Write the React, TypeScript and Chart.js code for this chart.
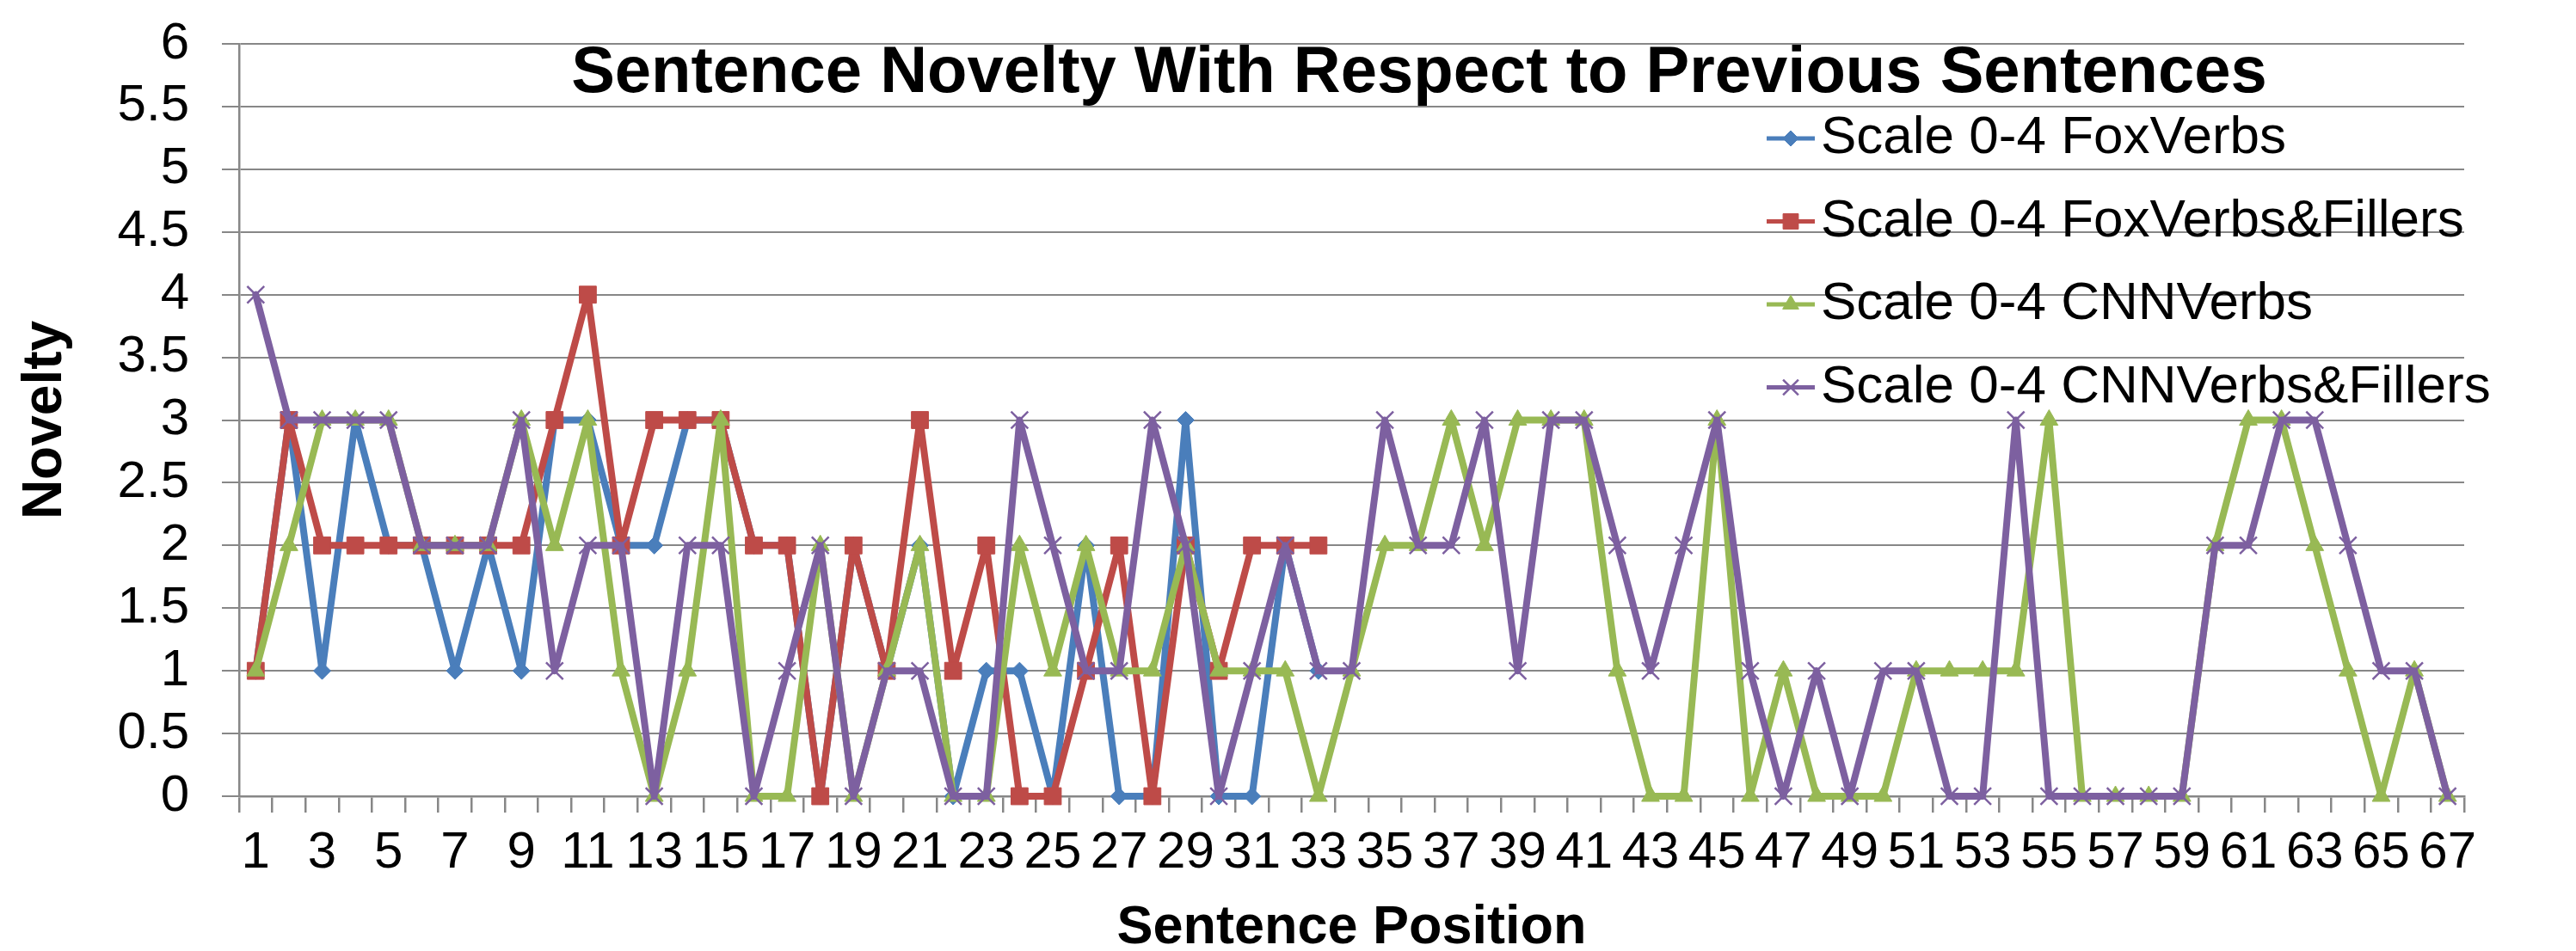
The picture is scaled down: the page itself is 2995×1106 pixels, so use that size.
import React, { useEffect, useRef } from 'react';
import { Chart, registerables } from 'chart.js';

Chart.register(...registerables);

const TITLE = 'Sentence Novelty With Respect to Previous Sentences';
const X_TITLE = 'Sentence Position';
const Y_TITLE = 'Novelty';

const categories = [
  '1', '2', '3', '4', '5', '6', '7', '8', '9', '10',
  '11', '12', '13', '14', '15', '16', '17', '18', '19', '20',
  '21', '22', '23', '24', '25', '26', '27', '28', '29', '30',
  '31', '32', '33', '34', '35', '36', '37', '38', '39', '40',
  '41', '42', '43', '44', '45', '46', '47', '48', '49', '50',
  '51', '52', '53', '54', '55', '56', '57', '58', '59', '60',
  '61', '62', '63', '64', '65', '66', '67',
];

const foxVerbs = [
  1, 3, 1, 3, 2, 2, 1, 2, 1, 3,
  3, 2, 2, 3, 3, 2, 2, 0, 2, 1,
  2, 0, 1, 1, 0, 2, 0, 0, 3, 0,
  0, 2, 1,
];

const foxVerbsFillers = [
  1, 3, 2, 2, 2, 2, 2, 2, 2, 3,
  4, 2, 3, 3, 3, 2, 2, 0, 2, 1,
  3, 1, 2, 0, 0, 1, 2, 0, 2, 1,
  2, 2, 2,
];

const cnnVerbs = [
  1, 2, 3, 3, 3, 2, 2, 2, 3, 2,
  3, 1, 0, 1, 3, 0, 0, 2, 0, 1,
  2, 0, 0, 2, 1, 2, 1, 1, 2, 1,
  1, 1, 0, 1, 2, 2, 3, 2, 3, 3,
  3, 1, 0, 0, 3, 0, 1, 0, 0, 0,
  1, 1, 1, 1, 3, 0, 0, 0, 0, 2,
  3, 3, 2, 1, 0, 1, 0,
];

const cnnVerbsFillers = [
  4, 3, 3, 3, 3, 2, 2, 2, 3, 1,
  2, 2, 0, 2, 2, 0, 1, 2, 0, 1,
  1, 0, 0, 3, 2, 1, 1, 3, 2, 0,
  1, 2, 1, 1, 3, 2, 2, 3, 1, 3,
  3, 2, 1, 2, 3, 1, 0, 1, 0, 1,
  1, 0, 0, 3, 0, 0, 0, 0, 0, 2,
  2, 3, 3, 2, 1, 1, 0,
];

const seriesLabels = [
  'Scale 0-4 FoxVerbs',
  'Scale 0-4 FoxVerbs&Fillers',
  'Scale 0-4 CNNVerbs',
  'Scale 0-4 CNNVerbs&Fillers',
];

const FONT = '"Liberation Sans", Arial, Helvetica, sans-serif';
const GRID = '#878787';
const BLUE = '#4A7EBB';
const RED = '#BE4B48';
const GREEN = '#98B954';
const PURPLE = '#7D60A0';

function drawMarker(ctx: CanvasRenderingContext2D, style: string, x: number, y: number, r: number, color: string, bw: number) {
  ctx.save();
  ctx.fillStyle = color;
  ctx.strokeStyle = color;
  ctx.lineWidth = bw;
  ctx.beginPath();
  if (style === 'rectRot') {
    ctx.moveTo(x - r, y);
    ctx.lineTo(x, y - r);
    ctx.lineTo(x + r, y);
    ctx.lineTo(x, y + r);
    ctx.closePath();
    ctx.fill();
    ctx.stroke();
  } else if (style === 'rect') {
    const s = Math.SQRT1_2 * r;
    ctx.rect(x - s, y - s, 2 * s, 2 * s);
    ctx.fill();
    ctx.stroke();
  } else if (style === 'triangle') {
    for (let k = 0; k < 3; k++) {
      const a = (k * 2 * Math.PI) / 3;
      const px = x + Math.sin(a) * r;
      const py = y - Math.cos(a) * r;
      if (k === 0) ctx.moveTo(px, py);
      else ctx.lineTo(px, py);
    }
    ctx.closePath();
    ctx.fill();
    ctx.stroke();
  } else {
    const d = Math.SQRT1_2 * r;
    ctx.moveTo(x - d, y - d);
    ctx.lineTo(x + d, y + d);
    ctx.moveTo(x - d, y + d);
    ctx.lineTo(x + d, y - d);
    ctx.stroke();
  }
  ctx.restore();
}

const overlayPlugin = {
  id: 'overlayTitleLegend',
  afterDraw(chart: any) {
    const { ctx, chartArea } = chart;
    ctx.save();
    ctx.font = `bold 76px ${FONT}`;
    ctx.fillStyle = '#000';
    ctx.textAlign = 'center';
    ctx.textBaseline = 'alphabetic';
    ctx.fillText(TITLE, chartArea.left + 1372, chartArea.top + 56);

    chart.data.datasets.forEach((ds: any, i: number) => {
      const y = chartArea.top + 110 + i * 96.5;
      const x0 = chartArea.right - 811;
      ctx.strokeStyle = ds.borderColor;
      ctx.lineWidth = 5;
      ctx.beginPath();
      ctx.moveTo(x0, y);
      ctx.lineTo(x0 + 56, y);
      ctx.stroke();
      drawMarker(ctx, ds.pointStyle, x0 + 28, y, ds.pointRadius * 0.9, ds.borderColor, ds.pointBorderWidth);
      ctx.fillStyle = '#000';
      ctx.textAlign = 'left';
      ctx.textBaseline = 'middle';
      ctx.font = `62px ${FONT}`;
      ctx.fillText(ds.label, x0 + 63, y);
    });
    ctx.restore();
  },
};

function makeDataset(label: string, data: number[], color: string, pointStyle: string, radius: number, pbw: number, order: number) {
  return {
    label,
    data,
    borderColor: color,
    backgroundColor: color,
    pointBackgroundColor: color,
    pointBorderColor: color,
    pointStyle,
    pointRadius: radius,
    pointHoverRadius: radius,
    pointBorderWidth: pbw,
    borderWidth: 8,
    borderJoinStyle: 'round' as const,
    borderCapStyle: 'round' as const,
    tension: 0,
    fill: false,
    clip: false as const,
    order,
  };
}

export default function App() {
  const canvasRef = useRef<HTMLCanvasElement | null>(null);

  useEffect(() => {
    if (!canvasRef.current) return;
    const chart = new Chart(canvasRef.current, {
      type: 'line',
      data: {
        labels: categories,
        datasets: [
          makeDataset(seriesLabels[0], foxVerbs, BLUE, 'rectRot', 10, 1, 3),
          makeDataset(seriesLabels[1], foxVerbsFillers, RED, 'rect', 14, 1, 2),
          makeDataset(seriesLabels[2], cnnVerbs, GREEN, 'triangle', 12, 1, 1),
          makeDataset(seriesLabels[3], cnnVerbsFillers, PURPLE, 'crossRot', 14, 2.5, 0),
        ],
      },
      options: {
        animation: false,
        responsive: false,
        devicePixelRatio: 1,
        layout: { padding: { top: 51, right: 130, left: 0, bottom: 0 } },
        plugins: {
          legend: { display: false },
          title: { display: false },
          tooltip: { enabled: false },
        },
        scales: {
          x: {
            type: 'category',
            offset: true,
            grid: {
              offset: true,
              drawOnChartArea: false,
              drawTicks: true,
              tickLength: 19,
              color: GRID,
              lineWidth: 2.5,
            },
            border: { display: true, color: GRID, width: 2.5 },
            ticks: {
              autoSkip: false,
              maxRotation: 0,
              minRotation: 0,
              padding: 11,
              color: '#000',
              font: { family: FONT, size: 60 },
              callback: function (this: any, val: any, idx: number) {
                return idx % 2 === 0 ? this.getLabelForValue(val) : '';
              },
            },
            title: {
              display: true,
              text: X_TITLE,
              color: '#000',
              font: { family: FONT, size: 63, weight: 'bold', lineHeight: 0.8 },
              padding: { top: 0, bottom: 1 },
            },
            afterFit: (s: any) => {
              s.height = 180;
              s.paddingLeft = 0;
              s.paddingRight = 0;
            },
          },
          y: {
            min: 0,
            max: 6,
            ticks: {
              stepSize: 0.5,
              autoSkip: false,
              padding: 38,
              color: '#000',
              font: { family: FONT, size: 60, lineHeight: 1 },
              callback: (v: any) => String(Math.round(Number(v) * 10) / 10),
            },
            grid: { color: GRID, lineWidth: 2, tickLength: 20, drawTicks: true },
            border: { display: true, color: GRID, width: 2.5 },
            title: {
              display: true,
              text: Y_TITLE,
              color: '#000',
              font: { family: FONT, size: 64, weight: 'bold' },
              padding: { top: 15, bottom: 0 },
            },
            afterFit: (s: any) => {
              s.width = 278;
              s.paddingTop = 0;
              s.paddingBottom = 0;
            },
          },
        },
      } as any,
      plugins: [overlayPlugin],
    });
    return () => chart.destroy();
  }, []);

  return (
    <div style={{ position: 'fixed', left: 0, top: 0, width: 2995, height: 1106, background: '#fff' }}>
      <canvas ref={canvasRef} width={2995} height={1106} style={{ display: 'block', width: 2995, height: 1106 }} />
    </div>
  );
}
